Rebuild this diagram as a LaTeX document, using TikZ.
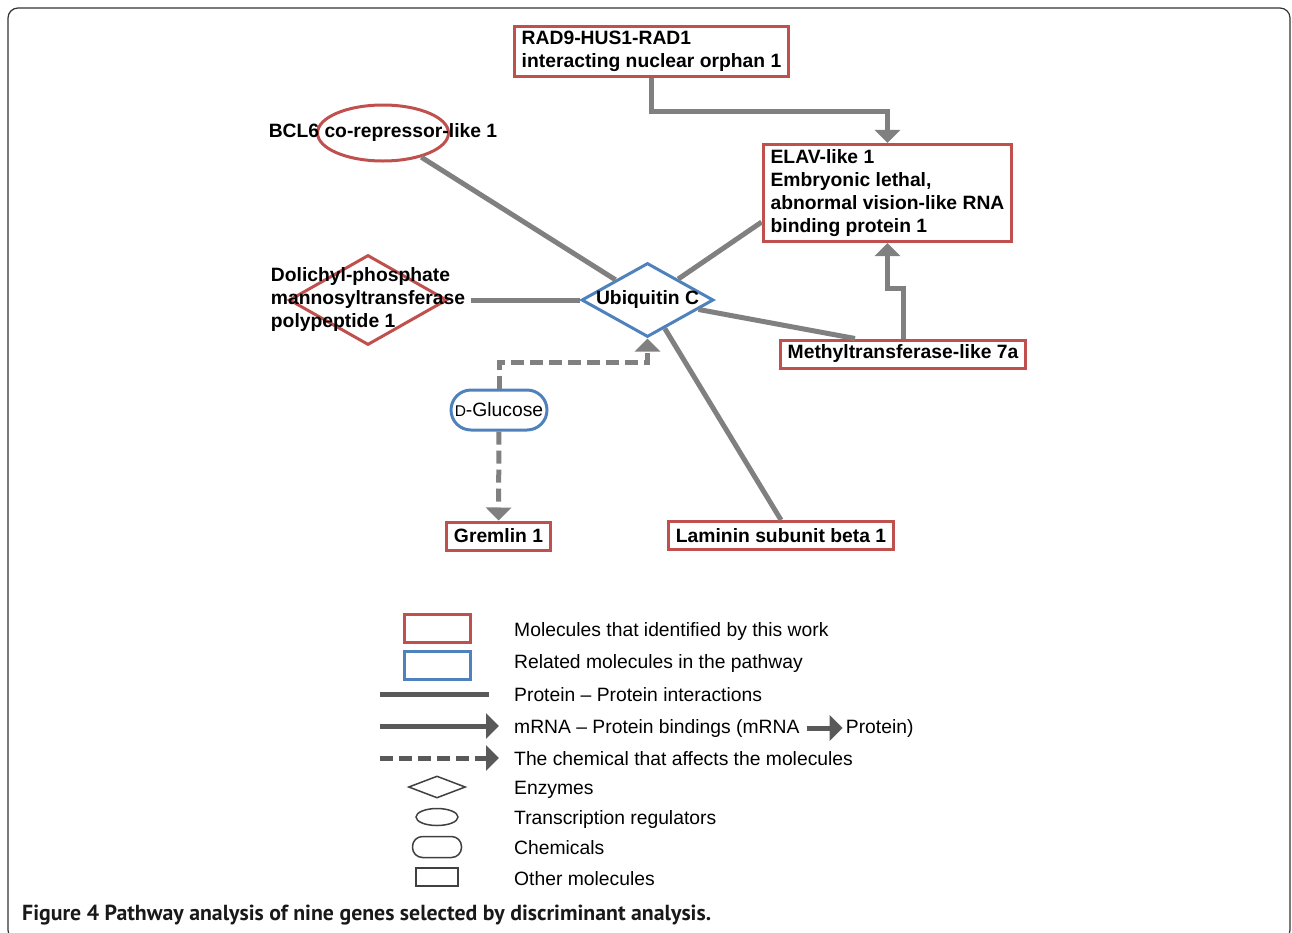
\documentclass[tikz,border=0pt]{standalone}
\usepackage{fontspec}
\setmainfont{Liberation Sans}
\newfontfamily\capfont{PT Sans}
\usetikzlibrary{arrows.meta,positioning,shapes.geometric}
\definecolor{idred}{RGB}{192,80,77}
\definecolor{relblue}{RGB}{79,129,189}
\definecolor{linkgray}{RGB}{128,128,128}
\definecolor{leggray}{RGB}{89,89,89}
\newcommand{\genefont}{\fontsize{19.3}{23}\selectfont\bfseries}
\newcommand{\legfont}{\fontsize{19.3}{23}\selectfont}

\begin{document}
\begin{tikzpicture}[x=1pt,y=-1pt,>={Triangle[width=25pt,length=13pt]}]
  \tikzstyle{gene}=[draw=idred,line width=3pt,align=left,inner xsep=7.5pt,inner ysep=5pt,font=\genefont]
  \tikzstyle{txt}=[align=left,font=\genefont,inner sep=6pt]
  \tikzstyle{link}=[draw=linkgray,line width=5pt]
  \tikzstyle{chem}=[link,dash pattern=on 13pt off 6pt]
  \tikzstyle{legsym}=[draw=black!75,line width=1.5pt,inner sep=0pt]
  \tikzstyle{legtxt}=[anchor=base west,font=\legfont,inner sep=0pt]
  \tikzstyle{legline}=[draw=leggray,line width=5pt]

  \useasboundingbox (0,0) rectangle (1292,932);
  \draw[black!80,line width=1.2pt,rounded corners=10pt] (8,8) rectangle (1290,940);

  \node[gene] (rad) at (651.5,51.5) {RAD9-HUS1-RAD1\\interacting nuclear orphan 1};
  \node[gene] (elav) at (887.5,193) {ELAV-like 1\\Embryonic lethal,\\abnormal vision-like RNA\\binding protein 1};
  \node[gene,minimum height=28pt] (methyl) at (903,354) {Methyltransferase-like 7a};
  \node[gene,minimum height=28pt] (grem) at (498.5,536) {Gremlin 1};
  \node[gene,minimum height=28pt] (lam) at (781,535.5) {Laminin subunit beta 1};
  \node[ellipse,draw=idred,line width=3pt,minimum width=131pt,minimum height=56pt,inner sep=0pt,
        label={[txt]center:BCL6 co-repressor-like 1}] (bcl) at (383,133) {};
  \node[diamond,draw=idred,line width=3pt,minimum width=158pt,minimum height=90pt,inner sep=0pt,
        label={[txt,name=dolt]center:Dolichyl-phosphate\\mannosyltransferase\\polypeptide 1}] (dol) at (368,300) {};
  \node[diamond,draw=relblue,line width=3pt,minimum width=132pt,minimum height=74pt,inner sep=0pt,
        label={[txt]center:Ubiquitin C}] (ubc) at (647.5,300) {};
  \node[draw=relblue,line width=3pt,rounded corners=20pt,minimum width=96pt,minimum height=40pt,
        font=\legfont,inner sep=2pt] (glc) at (499,410) {{\fontsize{15.5}{15}\selectfont D}-Glucose};

  \draw[link] (bcl) -- (ubc);
  \draw[link] (dolt.east) -- (ubc);
  \draw[link] (ubc) -- (elav.193);
  \draw[link] (ubc) -- ([xshift=-48pt]methyl.north);
  \draw[link] (ubc) -- (lam.north);
  \draw[link,->] (rad.south) -- ++(0,33) -| (elav.north);
  \draw[link,->] (methyl.north) -- ++(0,-50) -| (elav.south);
  \draw[chem,->] (glc.north) -- ++(0,-26) -| (ubc.south);
  \draw[chem,->] (glc) -- (grem);

  % legend
  \node[legsym,draw=idred,line width=3pt,minimum width=66pt,minimum height=28pt] (lid) at (437.5,628.5) {};
  \node[legsym,draw=relblue,line width=3pt,minimum width=66pt,minimum height=28pt] (lrel) at (437.5,665.5) {};
  \draw[legline] (380,694) -- (489,694);
  \draw[legline,->] (380,726) -- (499,726);
  \draw[legline,dash pattern=on 13pt off 6pt,->] (380,758) -- (499,758);
  \node[legsym,diamond,minimum width=57pt,minimum height=22pt] (lenz) at (437,787) {};
  \node[legsym,ellipse,minimum width=42pt,minimum height=17pt] (ltr) at (437,817) {};
  \node[legsym,rounded corners=10pt,minimum width=49pt,minimum height=21pt] (lchem) at (437,847) {};
  \node[legsym,minimum width=42pt,minimum height=18pt] (loth) at (437,877) {};

  \node[legtxt] at (514,636) {Molecules that identified by this work};
  \node[legtxt] at (514,668) {Related molecules in the pathway};
  \node[legtxt] at (514,701) {Protein – Protein interactions};
  \node[legtxt] (lmr) at (514,733) {mRNA – Protein bindings (mRNA};
  \node[legtxt,anchor=west,right=46pt of lmr] (lpr) {Protein)};
  \draw[legline,->] ([xshift=7pt]lmr.east) -- ([xshift=-3pt]lpr.west);
  \node[legtxt] at (514,765) {The chemical that affects the molecules};
  \node[legtxt] at (514,794) {Enzymes};
  \node[legtxt] at (514,824) {Transcription regulators};
  \node[legtxt] at (514,854) {Chemicals};
  \node[legtxt] at (514,885) {Other molecules};

  \node[anchor=base west,inner sep=0pt,text=black!90,font=\capfont\bfseries\fontsize{21.8}{24}\selectfont] (cap) at (22,920)
    {Figure 4 Pathway analysis of nine genes selected by discriminant analysis.};
\end{tikzpicture}
\end{document}
